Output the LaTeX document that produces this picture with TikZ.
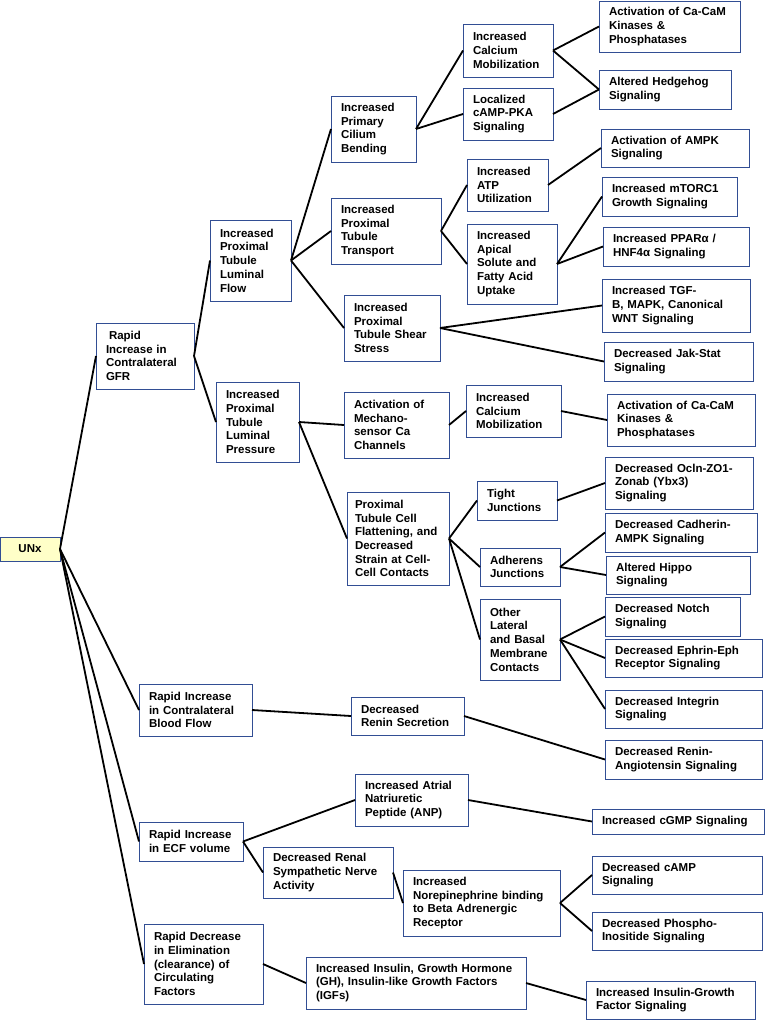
\documentclass[tikz,border=0pt]{standalone}
\usepackage{fontspec}
\setmainfont{Liberation Sans}
\usepackage{tikz}

\definecolor{boxblue}{RGB}{50,78,148}
\definecolor{unxfill}{RGB}{255,255,200}

\tikzset{
  box/.style={draw=boxblue, line width=1pt, fill=white, anchor=north west,
    inner xsep=10pt, inner ysep=0pt, outer sep=0pt, align=left,
    font=\bfseries\fontsize{11.5}{13.7}\selectfont},
  link/.style={line width=1.8pt}
}

\begin{document}
\begin{tikzpicture}[x=1pt,y=-1pt]
	  \useasboundingbox (0,0) rectangle (765,1020);
	  % root and first level
	  \node[box,fill=unxfill,align=center,text width=40pt,minimum height=24pt] (unx) at (0,537) {UNx};
	  \node[box,text width=78pt,minimum height=66pt] (gfr) at (96,323) {\hspace{3pt}Rapid\\Increase in\\Contralateral\\GFR};
	  \node[box,text width=93pt,minimum height=52pt] (blood) at (139,684) {Rapid Increase\\in Contralateral\\Blood Flow};
	  \node[box,text width=84pt,minimum height=39pt] (ecf) at (139,822) {Rapid Increase\\in ECF volume};
	  \node[box,text width=99pt,minimum height=80pt] (elim) at (144,924) {Rapid Decrease\\in Elimination\\(clearance) of\\Circulating\\Factors};
	  % GFR branch
	  \node[box,text width=61pt,minimum height=81pt] (flow) at (210,220) {Increased\\Proximal\\Tubule\\Luminal\\Flow};
	  \node[box,text width=63pt,minimum height=80pt] (pressure) at (216,382) {Increased\\Proximal\\Tubule\\Luminal\\Pressure};
	  \node[box,text width=65pt,minimum height=66pt] (cilium) at (331,96) {Increased\\Primary\\Cilium\\Bending};
	  \node[box,text width=90pt,minimum height=66pt] (transport) at (331,198) {Increased\\Proximal\\Tubule\\Transport};
	  \node[box,text width=76pt,minimum height=66pt] (shear) at (344,295) {Increased\\Proximal\\Tubule Shear\\Stress};
	  \node[box,text width=70pt,minimum height=53pt] (camob) at (463,24) {Increased\\Calcium\\Mobilization};
	  \node[box,text width=70pt,minimum height=52pt] (camp) at (463,88) {Localized\\cAMP-PKA\\Signaling};
	  \node[box,text width=121pt,minimum height=51pt] (cacam) at (599,1) {Activation of Ca-CaM\\Kinases \&\\Phosphatases};
	  \node[box,text width=112pt,minimum height=39pt] (hedgehog) at (599,70) {Altered Hedgehog\\Signaling};
	  \node[box,text width=61pt,minimum height=52pt] (atp) at (467,159) {Increased\\ATP\\Utilization};
	  \node[box,text width=70pt,minimum height=80pt] (apical) at (467,224) {Increased\\Apical\\Solute and\\Fatty Acid\\Uptake};
	  \node[box,text width=128pt,minimum height=38pt] (ampk) at (601,129) {Activation of AMPK\\Signaling};
	  \node[box,text width=115pt,minimum height=39pt] (mtorc) at (602,177) {Increased mTORC1\\Growth Signaling};
	  \node[box,text width=126pt,minimum height=39pt] (ppar) at (603,227) {Increased PPARα /\\HNF4α Signaling};
	  \node[box,text width=128pt,minimum height=53pt] (tgf) at (602,279) {Increased TGF-\\B, MAPK, Canonical\\WNT Signaling};
	  \node[box,text width=129pt,minimum height=39pt] (jak) at (604,342) {Decreased Jak-Stat\\Signaling};
	  \node[box,text width=85pt,minimum height=66pt] (mech) at (344,392) {Activation of\\Mechano-\\sensor Ca\\Channels};
	  \node[box,text width=75pt,minimum height=52pt] (camobb) at (466,385) {Increased\\Calcium\\Mobilization};
	  \node[box,text width=128pt,minimum height=52pt] (cacamb) at (607,394) {Activation of Ca-CaM\\Kinases \&\\Phosphatases};
	  \node[box,inner xsep=8pt,text width=86pt,minimum height=93pt] (flat) at (347,492) {Proximal\\Tubule Cell\\Flattening, and\\Decreased\\Strain at Cell-\\Cell Contacts};
	  \node[box,text width=60pt,minimum height=39pt] (tight) at (477,481) {Tight\\Junctions};
	  \node[box,text width=128pt,minimum height=52pt] (ocln) at (605,457) {Decreased Ocln-ZO1-\\Zonab (Ybx3)\\Signaling};
	  \node[box,text width=60pt,minimum height=38pt] (adherens) at (480,548) {Adherens\\Junctions};
	  \node[box,text width=132pt,minimum height=39pt] (cadherin) at (605,513) {Decreased Cadherin-\\AMPK Signaling};
	  \node[box,text width=124pt,minimum height=38pt] (hippo) at (606,556) {Altered Hippo\\Signaling};
	  \node[box,text width=60pt,minimum height=81pt] (other) at (480,599) {Other\\Lateral\\and Basal\\Membrane\\Contacts};
	  \node[box,text width=115pt,minimum height=39pt] (notch) at (605,597) {Decreased Notch\\Signaling};
	  \node[box,text width=137pt,minimum height=38pt] (ephrin) at (605,639) {Decreased Ephrin-Eph\\Receptor Signaling};
	  \node[box,text width=137pt,minimum height=38pt] (integrin) at (605,690) {Decreased Integrin\\Signaling};
	  % blood flow branch
	  \node[box,text width=93pt,minimum height=38pt] (renin) at (351,697) {Decreased\\Renin Secretion};
	  \node[box,text width=137pt,minimum height=39pt] (ras) at (605,740) {Decreased Renin-\\Angiotensin Signaling};
	  % ECF branch
	  \node[box,text width=93pt,minimum height=52pt] (anp) at (355,774) {Increased Atrial\\Natriuretic\\Peptide (ANP)};
	  \node[box,text width=152pt,minimum height=25pt] (cgmp) at (592,809) {Increased cGMP Signaling};
	  \node[box,text width=110pt,minimum height=51pt] (rsna) at (263,847) {Decreased Renal\\Sympathetic Nerve\\Activity};
	  \node[box,text width=137pt,minimum height=66pt] (ne) at (403,870) {Increased\\Norepinephrine binding\\to Beta Adrenergic\\Receptor};
	  \node[box,text width=150pt,minimum height=38pt] (campdec) at (592,856) {Decreased cAMP\\Signaling};
	  \node[box,text width=150pt,minimum height=38pt] (phospho) at (592,912) {Decreased Phospho-\\Inositide Signaling};
	  % clearance branch
	  \node[box,text width=200pt,minimum height=52pt] (insulin) at (306,957) {Increased Insulin, Growth Hormone\\(GH), Insulin-like Growth Factors\\(IGFs)};
	  \node[box,text width=149pt,minimum height=38pt] (igf) at (586,981) {Increased Insulin-Growth\\Factor Signaling};
	  % connectors
	  \draw[link] (unx.east) -- (gfr.west);
	  \draw[link] (unx.east) -- (blood.west);
	  \draw[link] (unx.east) -- (ecf.west);
	  \draw[link] (unx.east) -- (elim.west);
	  \draw[link] (gfr.east) -- (flow.west);
	  \draw[link] (gfr.east) -- (pressure.west);
	  \draw[link] (flow.east) -- (cilium.west);
	  \draw[link] (flow.east) -- (transport.west);
	  \draw[link] (flow.east) -- (shear.west);
	  \draw[link] (cilium.east) -- (camob.west);
	  \draw[link] (cilium.east) -- (camp.west);
	  \draw[link] (camob.east) -- (cacam.west);
	  \draw[link] (camob.east) -- (hedgehog.west);
	  \draw[link] (camp.east) -- (hedgehog.west);
	  \draw[link] (transport.east) -- (atp.west);
	  \draw[link] (transport.east) -- (apical.west);
	  \draw[link] (atp.east) -- (ampk.west);
	  \draw[link] (apical.east) -- (mtorc.west);
	  \draw[link] (apical.east) -- (ppar.west);
	  \draw[link] (shear.east) -- (tgf.west);
	  \draw[link] (shear.east) -- (jak.west);
	  \draw[link] (pressure.east) -- (mech.west);
	  \draw[link] (pressure.east) -- (flat.west);
	  \draw[link] (mech.east) -- (camobb.west);
	  \draw[link] (camobb.east) -- (cacamb.west);
	  \draw[link] (flat.east) -- (tight.west);
	  \draw[link] (flat.east) -- (adherens.west);
	  \draw[link] (flat.east) -- (other.west);
	  \draw[link] (tight.east) -- (ocln.west);
	  \draw[link] (adherens.east) -- (cadherin.west);
	  \draw[link] (adherens.east) -- (hippo.west);
	  \draw[link] (other.east) -- (notch.west);
	  \draw[link] (other.east) -- (ephrin.west);
	  \draw[link] (other.east) -- (integrin.west);
	  \draw[link] (blood.east) -- (renin.west);
	  \draw[link] (renin.east) -- (ras.west);
	  \draw[link] (ecf.east) -- (anp.west);
	  \draw[link] (ecf.east) -- (rsna.west);
	  \draw[link] (anp.east) -- (cgmp.west);
	  \draw[link] (rsna.east) -- (ne.west);
	  \draw[link] (ne.east) -- (campdec.west);
	  \draw[link] (ne.east) -- (phospho.west);
	  \draw[link] (elim.east) -- (insulin.west);
	  \draw[link] (insulin.east) -- (igf.west);
	\end{tikzpicture}
\end{document}
